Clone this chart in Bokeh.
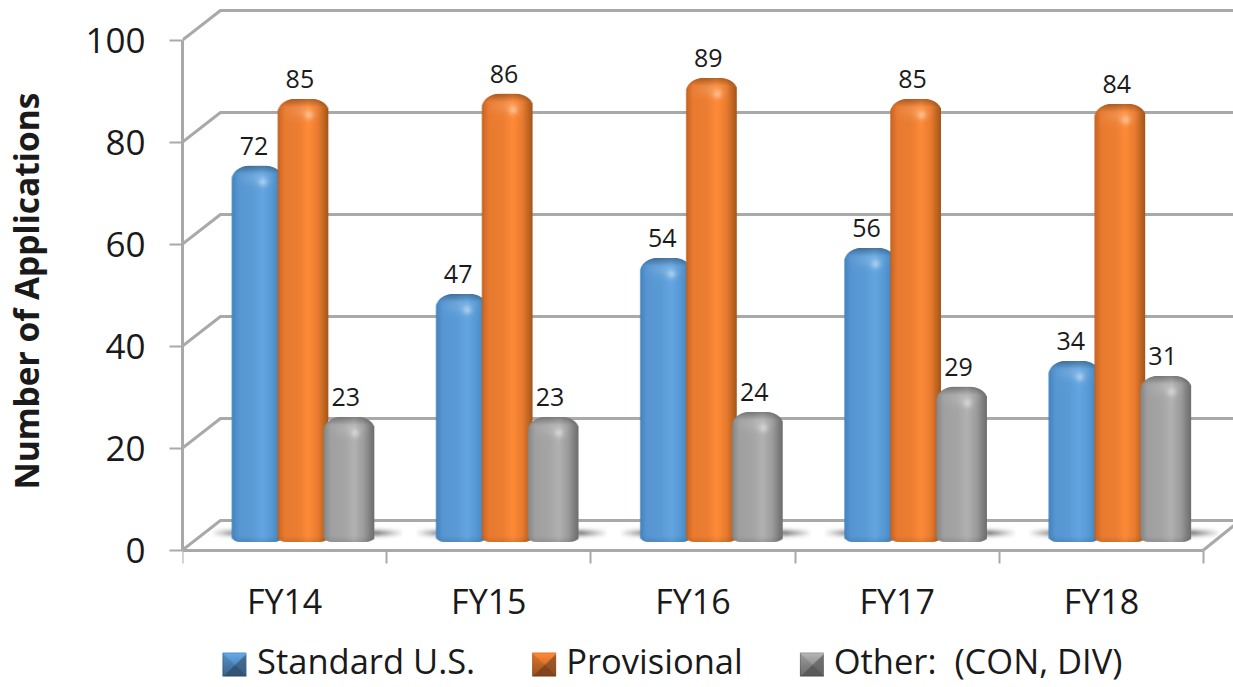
import numpy as np
from bokeh.embed import file_html
from bokeh.resources import INLINE
from bokeh.plotting import figure
from bokeh.models import (ColumnDataSource, Range1d, LinearAxis, FixedTicker, Legend, LegendItem, Title)
from bokeh.core.properties import value

categories = ["FY14", "FY15", "FY16", "FY17", "FY18"]
standard = [72, 47, 54, 56, 34]
provisional = [85, 86, 89, 85, 84]
other = [23, 23, 24, 29, 31]
series_names = ["Standard U.S.", "Provisional", "Other:  (CON, DIV)"]
y_ticks = [0, 20, 40, 60, 80, 100]

FONT = "Open Sans"
W, H = 1233, 687
LEFT = 181
PX_X = 204.4          # pixels per category
PX_Y = 5.1            # pixels per unit on the wall axis
PX_BAR = 5.137        # pixels per unit for the bars
ZERO_Y = 549.5        # y of axis zero
BAR_ZERO = 535.1      # y of value zero on the bars' plane
FOOT = -6.4 / PX_BAR  # the bars' rounded feet stand slightly below that zero
GRID = "#a9a9a9"
TXT = "#1a1a1a"

p = figure(width=W, height=H, output_backend="svg", toolbar_location=None,
           x_axis_type=None, y_axis_type=None,
           min_border_left=LEFT, min_border_right=0, min_border_top=0, min_border_bottom=0,
           x_range=Range1d(0, (W - LEFT) / PX_X),
           y_range=Range1d(-(H - ZERO_Y) / PX_Y, ZERO_Y / PX_Y),
           outline_line_color=None, background_fill_color="white", border_fill_color="white")
p.grid.visible = False
p.extra_y_ranges["bars"] = Range1d(-(H - BAR_ZERO) / PX_BAR, BAR_ZERO / PX_BAR)

# walls
dx, dy = 38 / PX_X, 29.5 / PX_Y
x_end = (W - LEFT) / PX_X
p.multi_line([[0, dx, x_end] for _ in y_ticks], [[t, t + dy, t + dy] for t in y_ticks],
             line_color=GRID, line_width=3)
p.line([len(categories), len(categories) + 31 / PX_X], [0, 25 / PX_Y], line_color=GRID, line_width=3)

# left axis; its blank label only keeps the vertical title away from the tick labels
ya = LinearAxis(ticker=FixedTicker(ticks=y_ticks), bounds=(0, 100), axis_label=" ")
ya.axis_line_color = GRID; ya.axis_line_width = 3
ya.major_tick_line_color = GRID; ya.major_tick_line_width = 2
ya.major_tick_out = 13; ya.major_tick_in = 0; ya.minor_tick_line_color = None
ya.major_label_text_font = FONT; ya.major_label_text_font_size = "35px"
ya.major_label_text_color = TXT; ya.major_label_standoff = 24
ya.axis_label_text_font_size = "2px"; ya.axis_label_standoff = 29
p.add_layout(ya, "left")

p.add_layout(Title(text="Number of Applications", align="right", offset=92, standoff=0,
                   text_font=FONT, text_font_size="33.5px", text_font_style="bold", text_color=TXT), "left")

# bottom axes (category boundaries, then category names)
xa = LinearAxis(ticker=FixedTicker(ticks=list(range(len(categories) + 1))),
                fixed_location=0, bounds=(0, len(categories)))
xa.axis_line_color = GRID; xa.axis_line_width = 3
xa.major_tick_line_color = GRID; xa.major_tick_line_width = 2
xa.major_tick_out = 13; xa.major_tick_in = 0; xa.minor_tick_line_color = None
xa.major_label_text_color = None
p.add_layout(xa, "below")

centers = [i + 0.5 for i in range(len(categories))]
xb = LinearAxis(ticker=FixedTicker(ticks=centers), fixed_location=0,
                major_label_overrides={c: n for c, n in zip(centers, categories)})
xb.axis_line_color = None; xb.major_tick_line_color = None; xb.minor_tick_line_color = None
xb.major_label_text_font = FONT; xb.major_label_text_font_size = "34px"
xb.major_label_text_color = TXT; xb.major_label_standoff = 22
p.add_layout(xb, "below")

# shading -------------------------------------------------------------
def mix(a, b, t):
    return a + (b - a) * t

def rgba_img(rgb, alpha):
    out = np.zeros(alpha.shape, dtype=np.uint32)
    v = out.view(dtype=np.uint8).reshape((*alpha.shape, 4))
    v[..., :3] = np.clip(rgb, 0, 255).astype(np.uint8)
    v[..., 3] = np.clip(alpha * 255, 0, 255).astype(np.uint8)
    return out

STOPS = [0, .05, .14, .4, .6, .78, .92, 1]
PROFILES = [
    ["#3f7fb9", "#4a8bc6", "#5796d2", "#5a9bd6", "#64a6e2", "#5799d4", "#4987bf", "#3f78ad"],
    ["#b85c1e", "#d46c27", "#e97b30", "#ec7e32", "#ff8b37", "#e97c30", "#b9621f", "#97501a"],
    ["#808080", "#8f8f8f", "#a0a0a0", "#a5a5a5", "#b2b2b2", "#9c9c9c", "#7a7a7a", "#6a6a6a"],
]
def h2rgb(h):
    return [int(h[i:i + 2], 16) for i in (1, 3, 5)]

BW = 51
def bar_image(val, s):
    h = int(round((val - FOOT) * PX_BAR))
    u = (np.arange(BW) + .5) / BW
    prof = np.array([np.interp(u, STOPS, [h2rgb(c)[k] for c in PROFILES[s]]) for k in range(3)]).T
    rgb = np.repeat(prof[None, :, :], h, axis=0)      # row 0 = top
    yy, xx = np.mgrid[0:h, 0:BW]
    yy = yy + .5; xx = xx + .5
    # top band, darker (the cap's back)
    top = np.clip((8 - yy) / 8, 0, 1)[..., None]
    rgb = mix(rgb, rgb * .72, top)
    # soft shoulder light
    sh = np.exp(-((yy - 12) / 7) ** 2)[..., None] * .14
    rgb = mix(rgb, 255, sh * np.clip(1 - np.abs(xx - 24) / 22, 0, 1)[..., None])
    # highlight spot
    hl = np.exp(-((xx - 31) / 4.5) ** 2 - ((yy - 16) / 4.5) ** 2)[..., None] * .38
    rgb = mix(rgb, 255, hl)
    # foot darker
    rgb = mix(rgb, rgb * .9, np.clip((yy - (h - 6)) / 6, 0, 1)[..., None])
    # outline mask
    alpha = np.ones((h, BW))
    R = 17.0
    ex = np.maximum(np.abs(xx - BW / 2) - (BW / 2 - R), 0) / R
    ey = np.maximum(R * .85 - yy, 0) / (R * .85)
    alpha = np.minimum(alpha, np.clip((1 - np.sqrt(ex ** 2 + ey ** 2)) * R + .5, 0, 1))
    Rx, Ry = 14.0, 5.0
    ex = np.maximum(np.abs(xx - BW / 2) - (BW / 2 - Rx), 0) / Rx
    ey = np.maximum(yy - (h - Ry), 0) / Ry
    alpha = np.minimum(alpha, np.clip((1 - np.sqrt(ex ** 2 + ey ** 2)) * Ry + .5, 0, 1))
    return rgba_img(rgb, alpha)[::-1], h

def shadow_image():
    w, h = 200, 20
    yy, xx = np.mgrid[0:h, 0:w]
    a = np.exp(-((yy - 10) / 3.6) ** 2) * np.clip((xx - 4) / 26, 0, 1) * np.clip((w - 4 - xx) / 26, 0, 1) * .6
    return rgba_img(np.full((h, w, 3), 70.0), a)

shadow = shadow_image()
for i in range(len(categories)):
    p.image_rgba(image=[shadow], x=[i + 24 / PX_X], y=[(ZERO_Y - 543) / PX_Y], dw=[200 / PX_X], dh=[20 / PX_Y])

# bars ----------------------------------------------------------------
all_values = [standard, provisional, other]
base_colors = ["#5b9bd5", "#ed7d31", "#a5a5a5"]
offsets = [-46 / PX_X, 0, 46 / PX_X]
legend_keys = []
xpos = [i + (301.5 - 181) / PX_X for i in range(len(categories))]
for s, vals in enumerate(all_values):
    xs = [c + offsets[s] for c in xpos]
    src = ColumnDataSource(dict(x=xs, top=vals))
    p.vbar(x="x", top="top", bottom=FOOT, width=(BW - 2) / PX_X, source=src, y_range_name="bars",
           fill_color=base_colors[s], line_color=None, border_radius=(16, 16, 6, 6))
    # same bars, invisible: the legend keys stay clear so the bevelled swatch shows through
    legend_keys.append(p.vbar(x="x", top="top", bottom=FOOT, width=(BW - 2) / PX_X, source=src,
                              y_range_name="bars", fill_alpha=0, line_alpha=0))
    imgs, dhs = [], []
    for v in vals:
        im, h = bar_image(v, s)
        imgs.append(im); dhs.append(h / PX_BAR)
    p.image_rgba(image=imgs, x=[c - BW / 2 / PX_X for c in xs], y=[FOOT] * len(xs),
                 dw=[BW / PX_X] * len(xs), dh=dhs, y_range_name="bars")
    p.text(x=xs, y=vals, text=[str(v) for v in vals], y_range_name="bars",
           x_offset=-3, y_offset=-20, text_align="center", text_baseline="middle",
           text_font=value(FONT), text_font_size="25px", text_color=TXT)

# legend --------------------------------------------------------------
legend = Legend(items=[LegendItem(label=n, renderers=[r]) for n, r in zip(series_names, legend_keys)],
                orientation="horizontal", location=(40, 3), padding=0, margin=0, spacing=56,
                glyph_width=24, glyph_height=24, label_standoff=11,
                border_line_color=None, background_fill_alpha=0,
                label_text_font=FONT, label_text_font_size="34.5px", label_text_color=TXT)
p.add_layout(legend, "center")

def swatch(s):
    n = 24
    yy, xx = np.mgrid[0:n, 0:n]
    yy = yy + .5; xx = xx + .5
    c = np.array(h2rgb(base_colors[s]), float)
    d_l, d_r, d_t, d_b = xx, n - xx, yy, n - yy
    m = np.minimum.reduce([d_l, d_r, d_t, d_b])
    rgb = np.tile(c, (n, n, 1))
    g = (yy / n)[..., None]
    rgb = np.where((d_b == m)[..., None], c * .55, rgb)
    rgb = np.where((d_r == m)[..., None], c * .6 + 20 * (1 - g), rgb)
    rgb = np.where((d_l == m)[..., None], c * (.95 - .3 * g), rgb)
    rgb = np.where((d_t == m)[..., None], c * (1.12 - .45 * g), rgb)
    rgb = np.where((m < 1.2)[..., None], rgb * .85, rgb)
    return rgba_img(rgb, np.ones((n, n)))[::-1]

for s, x0 in enumerate([221, 531, 799]):
    p.image_rgba(image=[swatch(s)], x=[(x0 - LEFT) / PX_X], y=[(ZERO_Y - 676) / PX_Y],
                 dw=[24 / PX_X], dh=[24 / PX_Y])

open("out.html", "w").write(file_html(p, INLINE))
